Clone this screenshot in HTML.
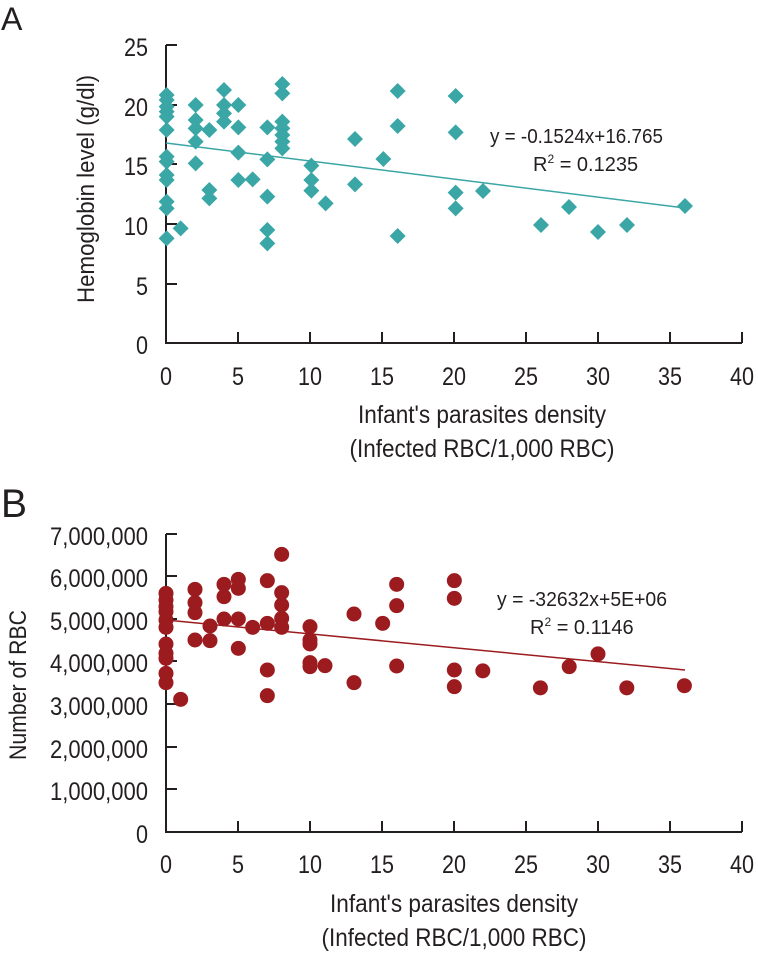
<!DOCTYPE html><html><head><meta charset="utf-8"><style>body{margin:0;background:#fff}svg text{font-family:"Liberation Sans",sans-serif;fill:#231f20}</style></head><body>
<svg id="s" width="758" height="952" xmlns="http://www.w3.org/2000/svg">
<text x="1" y="30" font-size="32">A</text>
<text x="1" y="517" font-size="40" textLength="26" lengthAdjust="spacingAndGlyphs">B</text>
<g stroke="#231f20" stroke-width="2" fill="none">
<path d="M166,45V343H742"/>
<path d="M166,534V832H742"/>
</g>
<g id="g"></g>
<g font-size="25" text-anchor="end" id="yl"></g>
<g font-size="25" text-anchor="middle" id="xl"></g>
<text transform="translate(94,189) rotate(-90)" font-size="24" text-anchor="middle" textLength="228" lengthAdjust="spacingAndGlyphs">Hemoglobin level (g/dl)</text>
<text transform="translate(26,685) rotate(-90)" font-size="24" text-anchor="middle" textLength="150" lengthAdjust="spacingAndGlyphs">Number of RBC</text>
<g font-size="25" text-anchor="middle">
<text x="482" y="423" textLength="248" lengthAdjust="spacingAndGlyphs">Infant's parasites density</text><text x="482" y="457" textLength="265" lengthAdjust="spacingAndGlyphs">(Infected RBC/1,000 RBC)</text>
<text x="454" y="912" textLength="248" lengthAdjust="spacingAndGlyphs">Infant's parasites density</text><text x="454" y="946" textLength="265" lengthAdjust="spacingAndGlyphs">(Infected RBC/1,000 RBC)</text>
</g>
<g font-size="20">
<text x="490" y="143" textLength="173" lengthAdjust="spacingAndGlyphs">y = -0.1524x+16.765</text><text x="533" y="171">R<tspan font-size="12" dy="-8">2</tspan><tspan dy="8"> = 0.1235</tspan></text>
<text x="497" y="606" textLength="170" lengthAdjust="spacingAndGlyphs">y = -32632x+5E+06</text><text x="530" y="634">R<tspan font-size="12" dy="-8">2</tspan><tspan dy="8"> = 0.1146</tspan></text>
</g>
</svg>
<script>
var g=document.getElementById('g'),h='',xl='',yl='';
function T(x,y,s){var w=(s.replace(/,/g,'').length)*12+(s.split(',').length-1)*7;return '<text x="'+x+'" y="'+y+'" textLength="'+w+'" lengthAdjust="spacingAndGlyphs">'+s+'</text>';}
for(var i=0;i<=8;i++){var x=166+i*72;
if(i>0){h+='<path d="M'+x+',343v-11M'+x+',832v-11" stroke="#231f20" stroke-width="2"/>';}
xl+=T(x,385,''+i*5)+T(x,873,''+i*5);}
var ya=[343,284,224,164,105,45];ya.forEach(function(y,i){yl+=T(148,y+11,''+i*5);});
var yb=[832,789,747,704,661,619,576,534];yb.forEach(function(y,i){yl+=T(148,y+11,i?i+',000,000':'0');});
[105,164,224,284].forEach(function(y){h+='<path d="M166,'+y+'h11" stroke="#231f20" stroke-width="2"/>'});
[576,619,661,704,747,789].forEach(function(y){h+='<path d="M166,'+y+'h11" stroke="#231f20" stroke-width="2"/>'});
h+='<path d="M166,45h11M166,534h11" stroke="#231f20" stroke-width="2"/>';
h+='<line x1="166" y1="143" x2="685" y2="208" stroke="#3aa6a6" stroke-width="1.5"/>';
h+='<line x1="166" y1="620" x2="685" y2="670" stroke="#9b1b1f" stroke-width="1.5"/>';
var A={50:[75,90,110,125,140,180,260,275,315,330,395,415,505],92:[475],137:[105,150,175,215,280],178:[180,360,385],222:[60,105,130,155],265:[105,172,248,330],308:[328],352:[172,268,380,480,520],397:[42,70,155,175,195,215,235],484:[287,330,362],527:[400],615:[207,343],700:[267],743:[63,168,498],917:[78,187,368,415]};
function dia(x,y){h+='<path d="M'+x+','+(y-8)+'l8,8l-8,8l-8,-8z" fill="#3aa6a6"/>';}
for(var k in A)A[k].forEach(function(z){dia(150+k/3,70+z/3)});
[[483,191],[541,225],[569,207],[598,232],[627,225],[685,206]].forEach(function(p){dia(p[0],p[1])});
var B={48:[160,180,200,215,240,262,312,340,355,400,428],92:[478],135:[148,188,218,300],180:[258,302],222:[133,170,237],265:[118,145,237,325],308:[262],352:[122,250,390,467],395:[43,158,195,235,262],480:[260,300,312,368,380],525:[377],612:[222,428],698:[250],740:[133,197,378],913:[122,175,390,440]};
function cir(x,y){h+='<circle cx="'+x+'" cy="'+y+'" r="7.5" fill="#9b1b1f"/>';}
for(var k in B)B[k].forEach(function(z){cir(150+k/3,540+z/3)});
[[22,3.8],[26,3.4],[28,3.9],[30,4.2],[32,3.4],[36,3.45]].forEach(function(p){cir(166+p[0]*14.4,832-p[1]*42.4)});
g.innerHTML=h;document.getElementById('xl').innerHTML=xl;document.getElementById('yl').innerHTML=yl;
</script>
</body></html>
